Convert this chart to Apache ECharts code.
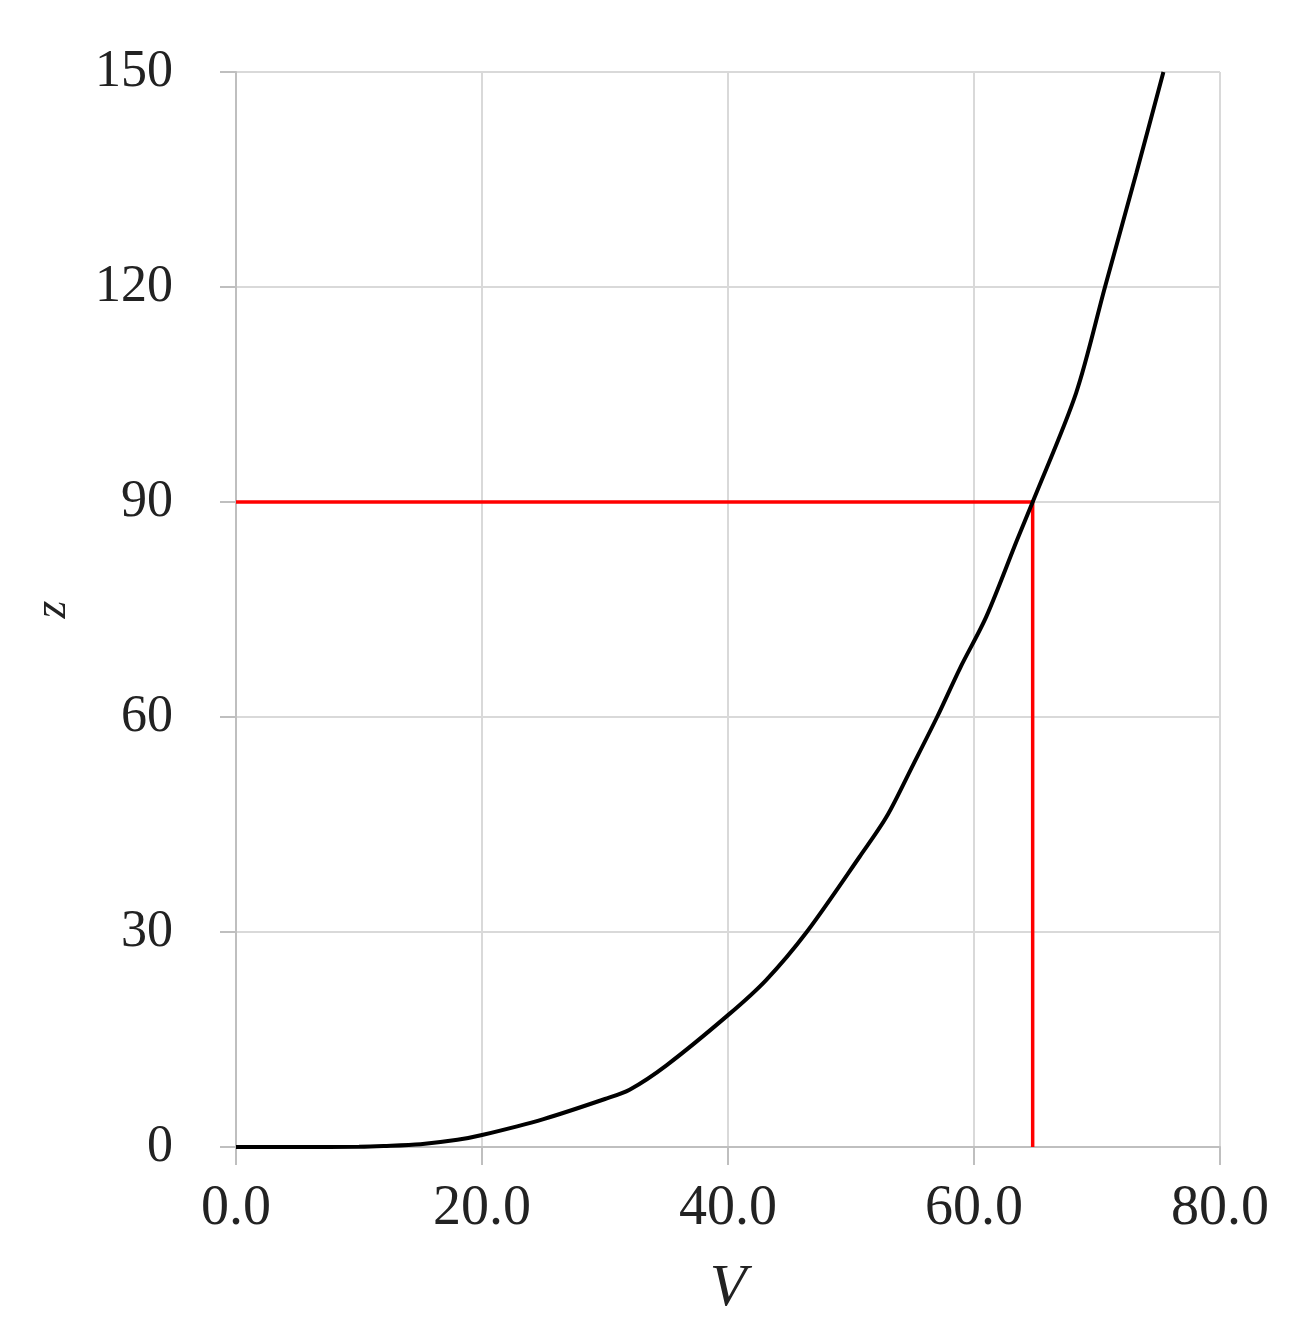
<!DOCTYPE html>
<html>
<head>
<meta charset="utf-8">
<script src="https://cdn.jsdelivr.net/npm/echarts@6/dist/echarts.min.js"></script>
<style>
  html, body { margin: 0; padding: 0; background: #fff; }
  #chart { width: 1289px; height: 1341px; }
</style>
</head>
<body>
<div id="chart"></div>
<script>
// curve z(V)
const curveV = [0, 5, 10, 12, 15, 18, 20, 25, 30, 32, 35, 40, 43.1, 46.4, 50.7, 52.9, 55.07, 57.0, 58.86, 61, 63.5, 64.77, 68.3, 70.65, 73.2, 75.4];
const curveZ = [0, 0, 0.05, 0.15, 0.4, 1.0, 1.67, 3.9, 6.7, 8.0, 11.4, 18.4, 23.3, 30, 40.5, 46.1, 53.4, 60, 66.8, 74.0, 84.7, 90, 105.2, 120, 135.9, 150];

// red guide lines: z = 90 -> V
const guideV = [0, 64.77, 64.77];
const guideZ = [90, 90, 0];

const xTicks = { min: 0, max: 80, interval: 20 };
const yTicks = { min: 0, max: 150, interval: 30 };

const curveData = curveV.map((v, i) => [v, curveZ[i]]);
const guideData = guideV.map((v, i) => [v, guideZ[i]]);

const chart = echarts.init(document.getElementById('chart'));
const option = {
  animation: false,
  grid: { left: 236, right: 69, top: 72, bottom: 194 },
  xAxis: {
    type: 'value',
    min: xTicks.min, max: xTicks.max, interval: xTicks.interval,
    name: 'V',
    nameLocation: 'middle',
    nameGap: 112,
    nameTextStyle: { fontFamily: 'Liberation Serif', fontStyle: 'italic', fontSize: 60, color: '#222' },
    axisLine: { lineStyle: { color: '#bfbfbf', width: 2 } },
    axisTick: { show: true, length: 18, lineStyle: { color: '#bfbfbf', width: 2 } },
    axisLabel: {
      margin: 34,
      fontFamily: 'Liberation Serif', fontSize: 56, color: '#222',
      formatter: v => v.toFixed(1)
    },
    splitLine: { show: true, lineStyle: { color: '#d9d9d9', width: 2 } }
  },
  yAxis: {
    type: 'value',
    min: yTicks.min, max: yTicks.max, interval: yTicks.interval,
    name: 'z',
    nameLocation: 'middle',
    nameGap: 160,
    nameRotate: 90,
    nameTextStyle: { fontFamily: 'Liberation Serif', fontStyle: 'italic', fontSize: 46, color: '#222' },
    axisLine: { show: true, lineStyle: { color: '#bfbfbf', width: 2 } },
    axisTick: { show: true, length: 16, lineStyle: { color: '#bfbfbf', width: 2 } },
    axisLabel: { margin: 63, fontFamily: 'Liberation Serif', fontSize: 52, color: '#222' },
    splitLine: { show: true, lineStyle: { color: '#d9d9d9', width: 2 } }
  },
  series: [
    {
      type: 'line',
      data: guideData,
      symbol: 'none',
      lineStyle: { color: '#ff0000', width: 3.5 },
      z: 3
    },
    {
      type: 'line',
      data: curveData,
      symbol: 'none',
      smooth: 0.3,
      lineStyle: { color: '#000', width: 4 },
      z: 4
    }
  ]
};
chart.setOption(option);
</script>
</body>
</html>
